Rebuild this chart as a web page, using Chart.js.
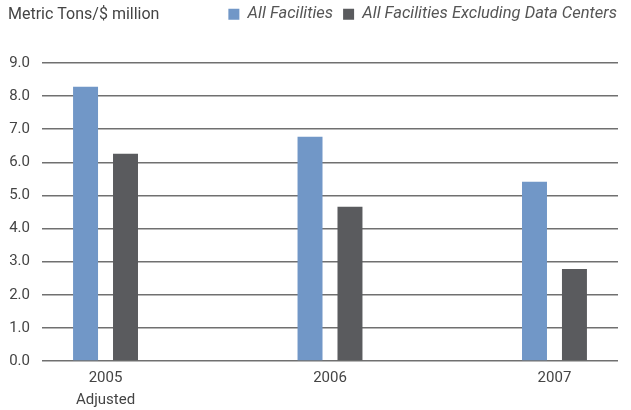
<!DOCTYPE html>
<html>
<head>
<meta charset="utf-8">
<script src="https://cdn.jsdelivr.net/npm/chart.js@4"></script>
<style>
  body { margin: 0; background: #fff; }
  #wrap { width: 631px; height: 410px; position: relative; }
</style>
</head>
<body>
<div id="wrap"><canvas id="chart"></canvas></div>
<script>
// data
const years = [2005, 2006, 2007];
const yearLabels = { 2005: ['2005', 'Adjusted'], 2006: '2006', 2007: '2007' };
const allFacilities = [8.28, 6.77, 5.41];
const exclDataCenters = [6.26, 4.66, 2.78];
const yTicks = [0, 1, 2, 3, 4, 5, 6, 7, 8, 9];

const FONT = 'Roboto';
const TXT = '#444';

// header text top left + room under the legend
const headerText = {
    id: 'headerText',
    beforeInit(chart) {
        const fit = chart.legend.fit;
        chart.legend.fit = function () {
            fit.call(this);
            this.height = 67;
        };
    },
    afterDraw(chart) {
        const ctx = chart.ctx;
        ctx.save();
        ctx.font = '16px "' + FONT + '"';
        ctx.fillStyle = TXT;
        ctx.textBaseline = 'middle';
        ctx.fillText('Metric Tons/$ million', 8, 15);
        ctx.restore();
    }
};

const ctx = document.getElementById('chart').getContext('2d');
new Chart(ctx, {
    type: 'bar',
    data: {
        datasets: [{
            label: 'All Facilities',
            data: years.map((y, i) => ({ x: y, y: allFacilities[i] })),
            backgroundColor: '#7197c7'
        }, {
            label: 'All Facilities Excluding Data Centers',
            data: years.map((y, i) => ({ x: y, y: exclDataCenters[i] })),
            backgroundColor: '#5a5b5e'
        }]
    },
    options: {
        responsive: true,
        maintainAspectRatio: false,
        animation: false,
        devicePixelRatio: 1,
        categoryPercentage: 0.356,
        barPercentage: 0.625,
        layout: { padding: { top: -4, right: 4, bottom: 0, left: 0 } },
        plugins: {
            tooltip: { enabled: false },
            legend: {
                align: 'end',
                labels: {
                    boxWidth: 11,
                    boxHeight: 11,
                    padding: 10,
                    color: '#555',
                    font: { family: FONT, size: 16.5, style: 'italic' }
                }
            }
        },
        scales: {
            x: {
                type: 'linear',
                offset: false,
                min: 2006 - 1.283,
                max: 2006 + 1.283,
                grid: { display: false, drawTicks: false },
                border: { display: false },
                afterFit: s => { s.height = 49; s.paddingRight = 13; },
                ticks: {
                    stepSize: 1,
                    includeBounds: false,
                    autoSkip: false,
                    maxRotation: 0,
                    padding: 6,
                    color: TXT,
                    font: { family: FONT, size: 15, lineHeight: 1.47 },
                    callback: v => yearLabels[v] || ''
                }
            },
            y: {
                min: 0,
                max: 9,
                afterFit: s => { s.width = 42; },
                afterBuildTicks: s => { s.ticks = yTicks.map(v => ({ value: v })); },
                grid: { color: '#707070', lineWidth: 1.5, drawTicks: false },
                border: { display: false },
                ticks: {
                    padding: 12,
                    color: TXT,
                    font: { family: FONT, size: 15 },
                    callback: v => v.toFixed(1)
                }
            }
        }
    },
    plugins: [headerText]
});
</script>
</body>
</html>
